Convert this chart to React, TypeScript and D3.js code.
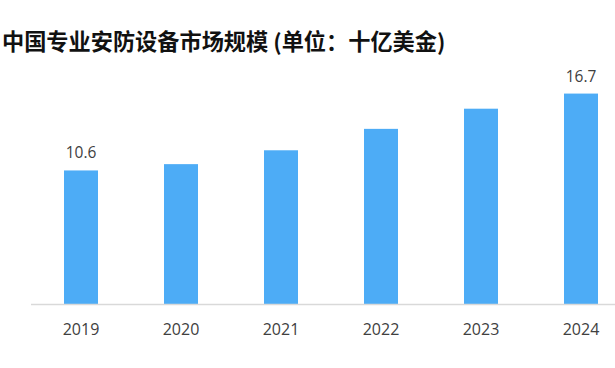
import { scaleBand, scaleLinear } from "d3";

const years = ["2019", "2020", "2021", "2022", "2023", "2024"];
const values = [10.6, 11.1, 12.2, 13.9, 15.5, 16.7];
const labelled = ["2019", "2024"];

const W = 615;
const H = 368;

export default function App() {
  const x = scaleBand<string>().domain(years).range([31, 631]).paddingInner(0.66).paddingOuter(0.33);
  const y = scaleLinear().domain([0, 18]).range([304, 304 - 18 * 12.6]);

  return (
    <svg
      width={W}
      height={H}
      viewBox={`0 0 ${W} ${H}`}
      style={{ position: "absolute", left: 0, top: 0, background: "#fff" }}
    >
      {/* Title */}
      <text
        x={2}
        y={50}
        fontFamily="'Noto Sans CJK SC', sans-serif"
        fontWeight="bold"
        fontSize={22.2}
        fill="#111"
      >
        中国专业安防设备市场规模 (单位：十亿美金)
      </text>

      {/* Bars */}
      {years.map((yr, i) => (
        <rect
          key={yr}
          x={x(yr)}
          y={y(values[i])}
          width={x.bandwidth()}
          height={y(0) - y(values[i])}
          fill="#4DACF6"
        />
      ))}

      {/* Value labels */}
      {years.map((yr, i) =>
        labelled.includes(yr) ? (
          <text
            key={yr}
            x={(x(yr) ?? 0) + x.bandwidth() / 2}
            y={y(values[i]) - 12}
            textAnchor="middle"
            fontFamily="'Open Sans', 'Liberation Sans', sans-serif"
            fontSize={15.5}
            fill="#404040"
          >
            {values[i].toFixed(1)}
          </text>
        ) : null
      )}

      {/* Axis line */}
      <line x1={31} x2={W} y1={y(0) + 0.5} y2={y(0) + 0.5} stroke="#D9D9D9" strokeWidth={1.5} />

      {/* X labels */}
      {years.map((yr) => (
        <text
          key={yr}
          x={(x(yr) ?? 0) + x.bandwidth() / 2}
          y={335}
          textAnchor="middle"
          fontFamily="'Open Sans', 'Liberation Sans', sans-serif"
          fontSize={16}
          fill="#404040"
        >
          {yr}
        </text>
      ))}
    </svg>
  );
}
